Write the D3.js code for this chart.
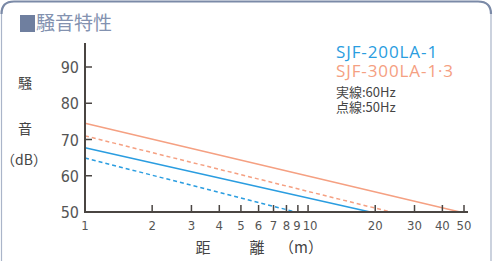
<!DOCTYPE html>
<html>
<head>
<meta charset="utf-8">
<script src="https://cdn.jsdelivr.net/npm/d3@7"></script>
<style>
  body { margin: 0; background: #fff; }
  svg { display: block; font-family: "Noto Sans CJK JP", "Noto Sans", sans-serif; }
</style>
</head>
<body>
<div id="chart"></div>
<script>
/* --- data ---------------------------------------------------------------- */
const xTicks = [1, 2, 3, 4, 5, 6, 7, 8, 9, 10, 20, 30, 40, 50];
const yTicks = [50, 60, 70, 80, 90];
const models = ["SJF-200LA-1", "SJF-300LA-1·3"];
const modelColors = ["#2a9de0", "#f5a082"];
// [distance m, dB] start / end of each straight line
const blue60 = [[1, 67.7], [19, 50]];
const blue50 = [[1, 64.9], [8.8, 50]];
const orange60 = [[1, 74.5], [48, 50]];
const orange50 = [[1, 71.0], [23.5, 50]];

const series = [
  { pts: blue60, model: 0, dashed: false },
  { pts: blue50, model: 0, dashed: true },
  { pts: orange60, model: 1, dashed: false },
  { pts: orange50, model: 1, dashed: true }
];

/* --- layout -------------------------------------------------------------- */
const W = 493, H = 261;
const svg = d3.select("#chart").append("svg").attr("width", W).attr("height", H);

// frame
svg.append("path")
  .attr("d", "M1.5,262 L1.5,14 Q1.5,1.5 14,1.5 L478,1.5 Q491,1.5 491,14 L491,262")
  .attr("fill", "none").attr("stroke", "#aab5c9").attr("stroke-width", 1.2);
svg.append("path")
  .attr("d", "M1.5,14 Q1.5,1.5 14,1.5 L478,1.5 Q491,1.5 491,14")
  .attr("fill", "none").attr("stroke", "#7b8aa7").attr("stroke-width", 2.2);

// title
svg.append("rect").attr("x", 20).attr("y", 15).attr("width", 15).attr("height", 17).attr("fill", "#6f7f9f");
svg.append("text").attr("x", 36).attr("y", 30).text("騒音特性")
  .attr("font-size", 19).attr("fill", "#8392b0");

/* --- scales -------------------------------------------------------------- */
const x = d3.scaleLog().domain([1, 50]).range([85, 464]);
const y = d3.scaleLinear().domain([50, 90]).range([212, 67]);
const axisColor = "#4a4542";

/* --- lines --------------------------------------------------------------- */
const line = d3.line().x(d => x(d[0])).y(d => y(d[1]));
svg.selectAll("path.series")
  .data(series)
  .join("path")
    .attr("class", "series")
    .attr("d", d => line(d.pts))
    .attr("fill", "none")
    .attr("stroke", d => modelColors[d.model])
    .attr("stroke-width", 1.5)
    .attr("stroke-dasharray", d => d.dashed ? "4,3" : null);

/* --- axes ---------------------------------------------------------------- */
// y axis
svg.append("line").attr("x1", 85).attr("x2", 85).attr("y1", 43).attr("y2", 212)
  .attr("stroke", axisColor).attr("stroke-width", 2);
svg.selectAll("line.ytick").data(yTicks.slice(1)).join("line")
  .attr("class", "ytick")
  .attr("x1", 85).attr("x2", 92).attr("y1", d => y(d)).attr("y2", d => y(d))
  .attr("stroke", axisColor).attr("stroke-width", 1.5);
svg.selectAll("text.ylab").data(yTicks).join("text")
  .attr("class", "ylab")
  .attr("x", 79).attr("y", d => y(d) + 6)
  .attr("text-anchor", "end").attr("font-size", 16)
  .attr("font-family", "'Liberation Sans Narrow', 'DejaVu Sans Condensed', sans-serif")
  .attr("fill", "#555").text(d => d);

// x axis
svg.append("line").attr("x1", 84).attr("x2", 468).attr("y1", 212).attr("y2", 212)
  .attr("stroke", axisColor).attr("stroke-width", 2);
svg.selectAll("line.xtick").data(xTicks.slice(1)).join("line")
  .attr("class", "xtick")
  .attr("x1", d => x(d)).attr("x2", d => x(d)).attr("y1", 212).attr("y2", 205)
  .attr("stroke", axisColor).attr("stroke-width", 1.5);
svg.selectAll("text.xlab").data(xTicks).join("text")
  .attr("class", "xlab")
  .attr("x", d => x(d) + (d === 9 ? -1 : d === 10 ? 2 : 0))
  .attr("y", 230)
  .attr("text-anchor", "middle").attr("font-size", 13)
  .attr("font-family", "'Liberation Sans Narrow', 'DejaVu Sans Condensed', sans-serif")
  .attr("fill", "#555").text(d => d);

// axis titles
const titleColor = "#444";
[["騒", 25, 88], ["音", 25, 134], ["（dB）", 24, 165]].forEach(([t, tx, ty]) => {
  svg.append("text").attr("x", tx).attr("y", ty).attr("text-anchor", "middle")
    .attr("font-size", 14).attr("fill", titleColor).text(t);
});
[["距", 203], ["離", 257], ["（m）", 301]].forEach(([t, tx]) => {
  svg.append("text").attr("x", tx).attr("y", 253).attr("text-anchor", "middle")
    .attr("font-size", 15).attr("fill", titleColor).text(t);
});

/* --- legend -------------------------------------------------------------- */
models.forEach((m, i) => {
  svg.append("text").attr("x", 336).attr("y", 58 + i * 19)
    .attr("font-size", 17).attr("letter-spacing", 0.9).attr("fill", modelColors[i])
    .attr("font-family", "'Open Sans', 'Noto Sans', sans-serif").text(m);
});
["実線:60Hz", "点線:50Hz"].forEach((t, i) => {
  svg.append("text").attr("x", 336).attr("y", 97 + i * 15)
    .attr("font-size", 13).attr("fill", "#444").text(t);
});
</script>
</body>
</html>
